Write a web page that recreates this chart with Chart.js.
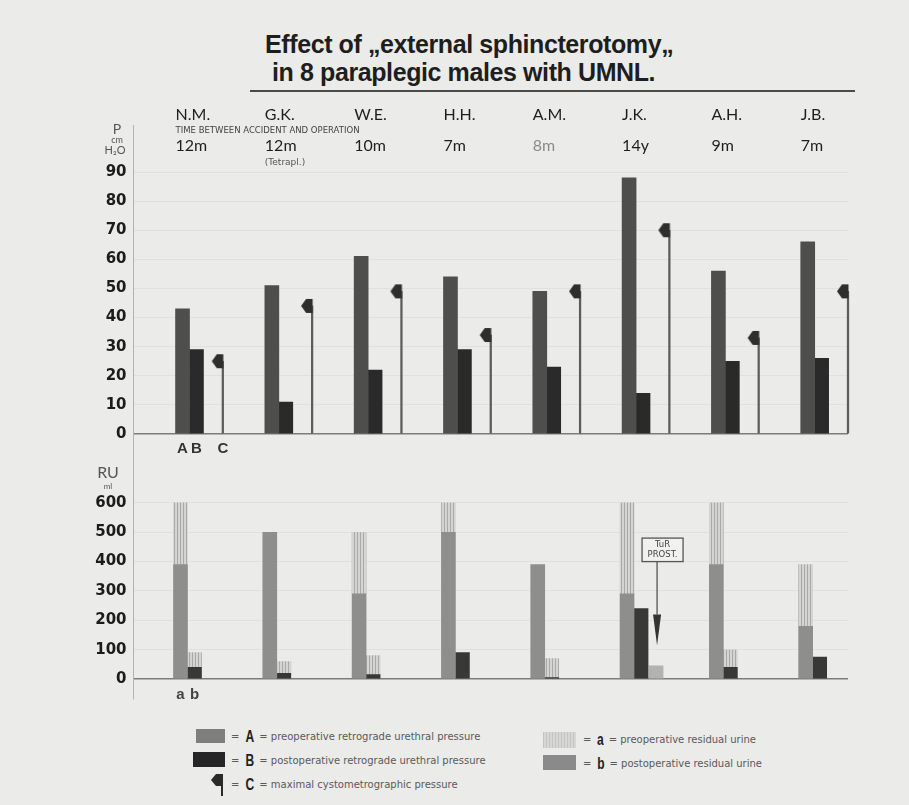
<!DOCTYPE html>
<html>
<head>
<meta charset="utf-8">
<script src="https://cdn.jsdelivr.net/npm/chart.js@4.4.1/dist/chart.umd.min.js"></script>
<style>
  body { margin:0; width:909px; height:805px; background:#ebebe9; position:relative; overflow:hidden; font-family:"Liberation Sans", Arial, sans-serif; }
  .title { position:absolute; font-weight:bold; font-size:25px; color:#1e1e1e; letter-spacing:-0.4px; white-space:nowrap; }
  #rule { position:absolute; left:250px; top:90px; width:605px; height:2px; background:#4a4a4a; }
  canvas { position:absolute; left:0; }
  .lg { position:absolute; font-family:"DejaVu Sans", sans-serif; font-size:10px; color:#5a5a5a; white-space:nowrap; line-height:14px; }
  .lg b { font-family:"Liberation Sans", sans-serif; font-size:16px; color:#222; display:inline-block; transform:scaleX(.75); vertical-align:-2px; margin:0 1px; }
  .sw { position:absolute; }
</style>
</head>
<body>
<div class="title" style="left:265px;top:30px">Effect of „external sphincterotomy„</div>
<div class="title" style="left:272px;top:58px">in 8 paraplegic males with UMNL.</div>
<div id="rule"></div>

<canvas id="pressureChart" width="909" height="390" style="top:95px"></canvas>
<canvas id="residualChart" width="909" height="270" style="top:445px"></canvas>

<div class="sw" style="left:196px;top:729px;width:29px;height:14px;background:#7e7e7e"></div>
<div class="lg" style="left:231px;top:730px">= <b>A</b> = preoperative retrograde urethral pressure</div>
<div class="sw" style="left:193px;top:752px;width:32px;height:15px;background:#262626"></div>
<div class="lg" style="left:231px;top:754px">= <b>B</b> = postoperative retrograde urethral pressure</div>
<svg class="sw" style="left:210px;top:773px" width="14" height="24"><polygon points="12,1 6,1 1,7 6,13 12,13" fill="#2a2a2a"/><line x1="12" y1="1" x2="12" y2="23" stroke="#2a2a2a" stroke-width="2"/></svg>
<div class="lg" style="left:231px;top:778px">= <b>C</b> = maximal cystometrographic pressure</div>
<div class="sw" style="left:543px;top:732px;width:33px;height:16px;background:repeating-linear-gradient(90deg,#c4c4c2 0 1px,#d6d6d4 1px 3px)"></div>
<div class="lg" style="left:583px;top:733px">= <b>a</b> = preoperative residual urine</div>
<div class="sw" style="left:543px;top:755px;width:33px;height:15px;background:#8a8a8a"></div>
<div class="lg" style="left:583px;top:757px">= <b>b</b> = postoperative residual urine</div>

<script>
const patients = ['N.M.', 'G.K.', 'W.E.', 'H.H.', 'A.M.', 'J.K.', 'A.H.', 'J.B.'];
const opTimes = ['12m', '12m', '10m', '7m', '8m', '14y', '9m', '7m'];

// pressure, cm H2O
const preUrethral = [43, 51, 61, 54, 49, 88, 56, 66];
const postUrethral = [29, 11, 22, 29, 23, 14, 25, 26];
const maxCystometric = [25, 44, 49, 34, 49, 70, 33, 49];
const pressureTicks = [0, 10, 20, 30, 40, 50, 60, 70, 80, 90];

// residual urine, ml (solid part and top of hatched part)
const preResidual = [390, 500, 290, 500, 390, 290, 390, 180];
const preResidualMax = [600, null, 500, 600, null, 600, 600, 390];
const postResidual = [40, 20, 15, 90, 5, 240, 40, 75];
const postResidualMax = [90, 60, 80, null, 70, null, 100, null];
const afterTurResidual = [null, null, null, null, null, 45, null, null];
const residualTicks = [0, 100, 200, 300, 400, 500, 600];

const BAR_W = 14;
const A_OFF = 0.549, B_OFF = 0.705, C_OFF = 1.0;
const a_OFF = 0.526, b_OFF = 0.683, TUR_OFF = 0.851;

function pts(arr, off) {
  return arr.map((v, i) => v == null ? null : { x: i + off, y: v }).filter(Boolean);
}
function spans(lo, hi, off) {
  return hi.map((v, i) => v == null ? null : { x: i + off, y: [lo[i], v] }).filter(Boolean);
}

const hatchTile = document.createElement('canvas');
hatchTile.width = 3; hatchTile.height = 3;
{
  const h = hatchTile.getContext('2d');
  h.fillStyle = '#d4d4d2'; h.fillRect(0, 0, 3, 3);
  h.fillStyle = '#aaaaa8'; h.fillRect(0, 0, 1, 3);
}
const hatch = hatchTile.getContext('2d').createPattern(hatchTile, 'repeat');

const marker = document.createElement('canvas');
marker.width = 24; marker.height = 16;
{
  const m = marker.getContext('2d');
  m.fillStyle = '#2e2e2e';
  m.beginPath();
  m.moveTo(12.5, 1); m.lineTo(6, 1); m.lineTo(1, 8); m.lineTo(6, 15); m.lineTo(12.5, 15);
  m.closePath(); m.fill();
}

function baseOptions(yMin, yMax, ticks, pad) {
  return {
    responsive: false,
    animation: false,
    layout: { padding: pad },
    plugins: { legend: { display: false }, tooltip: { enabled: false } },
    datasets: { bar: { grouped: false, barThickness: BAR_W, borderWidth: 0 } },
    scales: {
      x: { type: 'linear', min: 0, max: 8, offset: false, display: false, grid: { offset: false } },
      y: {
        min: yMin, max: yMax,
        afterBuildTicks: s => { s.ticks = ticks.map(v => ({ value: v })); },
        afterFit: s => { s.width = 40; },
        border: { display: true, color: '#b4b4b0', width: 1 },
        grid: {
          drawTicks: false,
          color: c => c.tick && c.tick.value === 0 ? '#7c7c78' : 'rgba(0,0,0,0.045)',
          lineWidth: c => c.tick && c.tick.value === 0 ? 1.6 : 1
        },
        ticks: { padding: 7, color: '#1c1c1c', font: { family: 'DejaVu Sans', weight: 'bold', size: 15 } }
      }
    }
  };
}

const pressureText = {
  id: 'pressureText',
  afterDraw(chart) {
    const { ctx, scales: { x } } = chart;
    ctx.save();
    ctx.textBaseline = 'middle';
    ctx.textAlign = 'left';
    patients.forEach((name, i) => {
      const left = x.getPixelForValue(i + A_OFF) - BAR_W / 2;
      ctx.font = '16px Lato';
      ctx.fillStyle = '#1e1e1e';
      ctx.fillText(name, left, 20);
      ctx.fillStyle = i === 4 ? '#8a8a8a' : '#1e1e1e';
      ctx.fillText(opTimes[i], left, 51);
    });
    const first = x.getPixelForValue(A_OFF) - BAR_W / 2;
    ctx.font = '8.5px DejaVu Sans';
    ctx.fillStyle = '#444';
    ctx.fillText('TIME BETWEEN ACCIDENT AND OPERATION', first, 36);
    ctx.font = '9px DejaVu Sans';
    ctx.fillStyle = '#555';
    ctx.fillText('(Tetrapl.)', x.getPixelForValue(1 + A_OFF) - BAR_W / 2, 68);

    // axis unit
    ctx.textAlign = 'center';
    ctx.fillStyle = '#555';
    ctx.font = '14px Lato';
    ctx.fillText('P', 117, 34);
    ctx.font = '9px Lato';
    ctx.fillText('cm', 117, 45);
    ctx.font = '11px Lato';
    ctx.fillText('H₂O', 115, 55);

    // A B C under the first group
    ctx.font = 'bold 15px Liberation Sans';
    ctx.fillStyle = '#333';
    [['A', A_OFF], ['B', B_OFF], ['C', C_OFF]].forEach(([t, o]) => {
      ctx.fillText(t, x.getPixelForValue(o), 354);
    });
    ctx.restore();
  }
};

const residualText = {
  id: 'residualText',
  afterDraw(chart) {
    const { ctx, scales: { x, y } } = chart;
    ctx.save();
    ctx.textBaseline = 'middle';
    ctx.textAlign = 'center';
    ctx.fillStyle = '#555';
    ctx.font = '16px Lato';
    ctx.fillText('RU', 108, 28);
    ctx.font = '8px Lato';
    ctx.fillText('ml', 108, 41);

    ctx.font = 'bold 15px Liberation Sans';
    ctx.fillStyle = '#444';
    ctx.fillText('a', x.getPixelForValue(a_OFF), 250);
    ctx.fillText('b', x.getPixelForValue(b_OFF), 250);

    // TUR PROST note on J.K.
    const ax = x.getPixelForValue(5 + TUR_OFF) + 1;
    const boxTop = y.getPixelForValue(480), boxBot = y.getPixelForValue(400);
    ctx.fillStyle = '#f1f1ef';
    ctx.strokeStyle = '#555';
    ctx.lineWidth = 1.3;
    ctx.fillRect(ax - 15, boxTop, 41, boxBot - boxTop);
    ctx.strokeRect(ax - 15, boxTop, 41, boxBot - boxTop);
    ctx.fillStyle = '#444';
    ctx.font = '8.5px DejaVu Sans';
    ctx.fillText('TuR', ax + 5.5, boxTop + 7);
    ctx.fillText('PROST.', ax + 5.5, boxTop + 17);
    const headTop = y.getPixelForValue(220), tip = y.getPixelForValue(115);
    ctx.beginPath();
    ctx.moveTo(ax, boxBot); ctx.lineTo(ax, headTop);
    ctx.stroke();
    ctx.fillStyle = '#333';
    ctx.beginPath();
    ctx.moveTo(ax - 4, headTop); ctx.lineTo(ax + 4, headTop); ctx.lineTo(ax, tip);
    ctx.closePath(); ctx.fill();
    ctx.restore();
  }
};

new Chart(document.getElementById('pressureChart'), {
  type: 'bar',
  data: {
    datasets: [
      { type: 'line', label: 'C marker', data: pts(maxCystometric, C_OFF), showLine: false,
        pointStyle: marker, pointRadius: 6, clip: false },
      { label: 'C', data: pts(maxCystometric, C_OFF), backgroundColor: '#5c5c5a', barThickness: 1.6, clip: false },
      { label: 'A', data: pts(preUrethral, A_OFF), backgroundColor: '#4e4e4c' },
      { label: 'B', data: pts(postUrethral, B_OFF), backgroundColor: '#2a2a2a' }
    ]
  },
  options: baseOptions(-10.65, 106.15, pressureTicks, { left: 93.5, right: 61, top: 30, bottom: 20 }),
  plugins: [pressureText]
});

new Chart(document.getElementById('residualChart'), {
  type: 'bar',
  data: {
    datasets: [
      { label: 'a', data: pts(preResidual, a_OFF), backgroundColor: '#8e8e8c' },
      { label: 'a range', data: spans(preResidual, preResidualMax, a_OFF), backgroundColor: hatch },
      { label: 'b', data: pts(postResidual, b_OFF), backgroundColor: '#383838' },
      { label: 'b range', data: spans(postResidual, postResidualMax, b_OFF), backgroundColor: hatch },
      { label: 'after TUR', data: pts(afterTurResidual, TUR_OFF), backgroundColor: '#b2b2b0' }
    ]
  },
  options: baseOptions(-67.8, 728.8, residualTicks, { left: 93.5, right: 61, top: 20, bottom: 15 }),
  plugins: [residualText]
});
</script>
</body>
</html>
